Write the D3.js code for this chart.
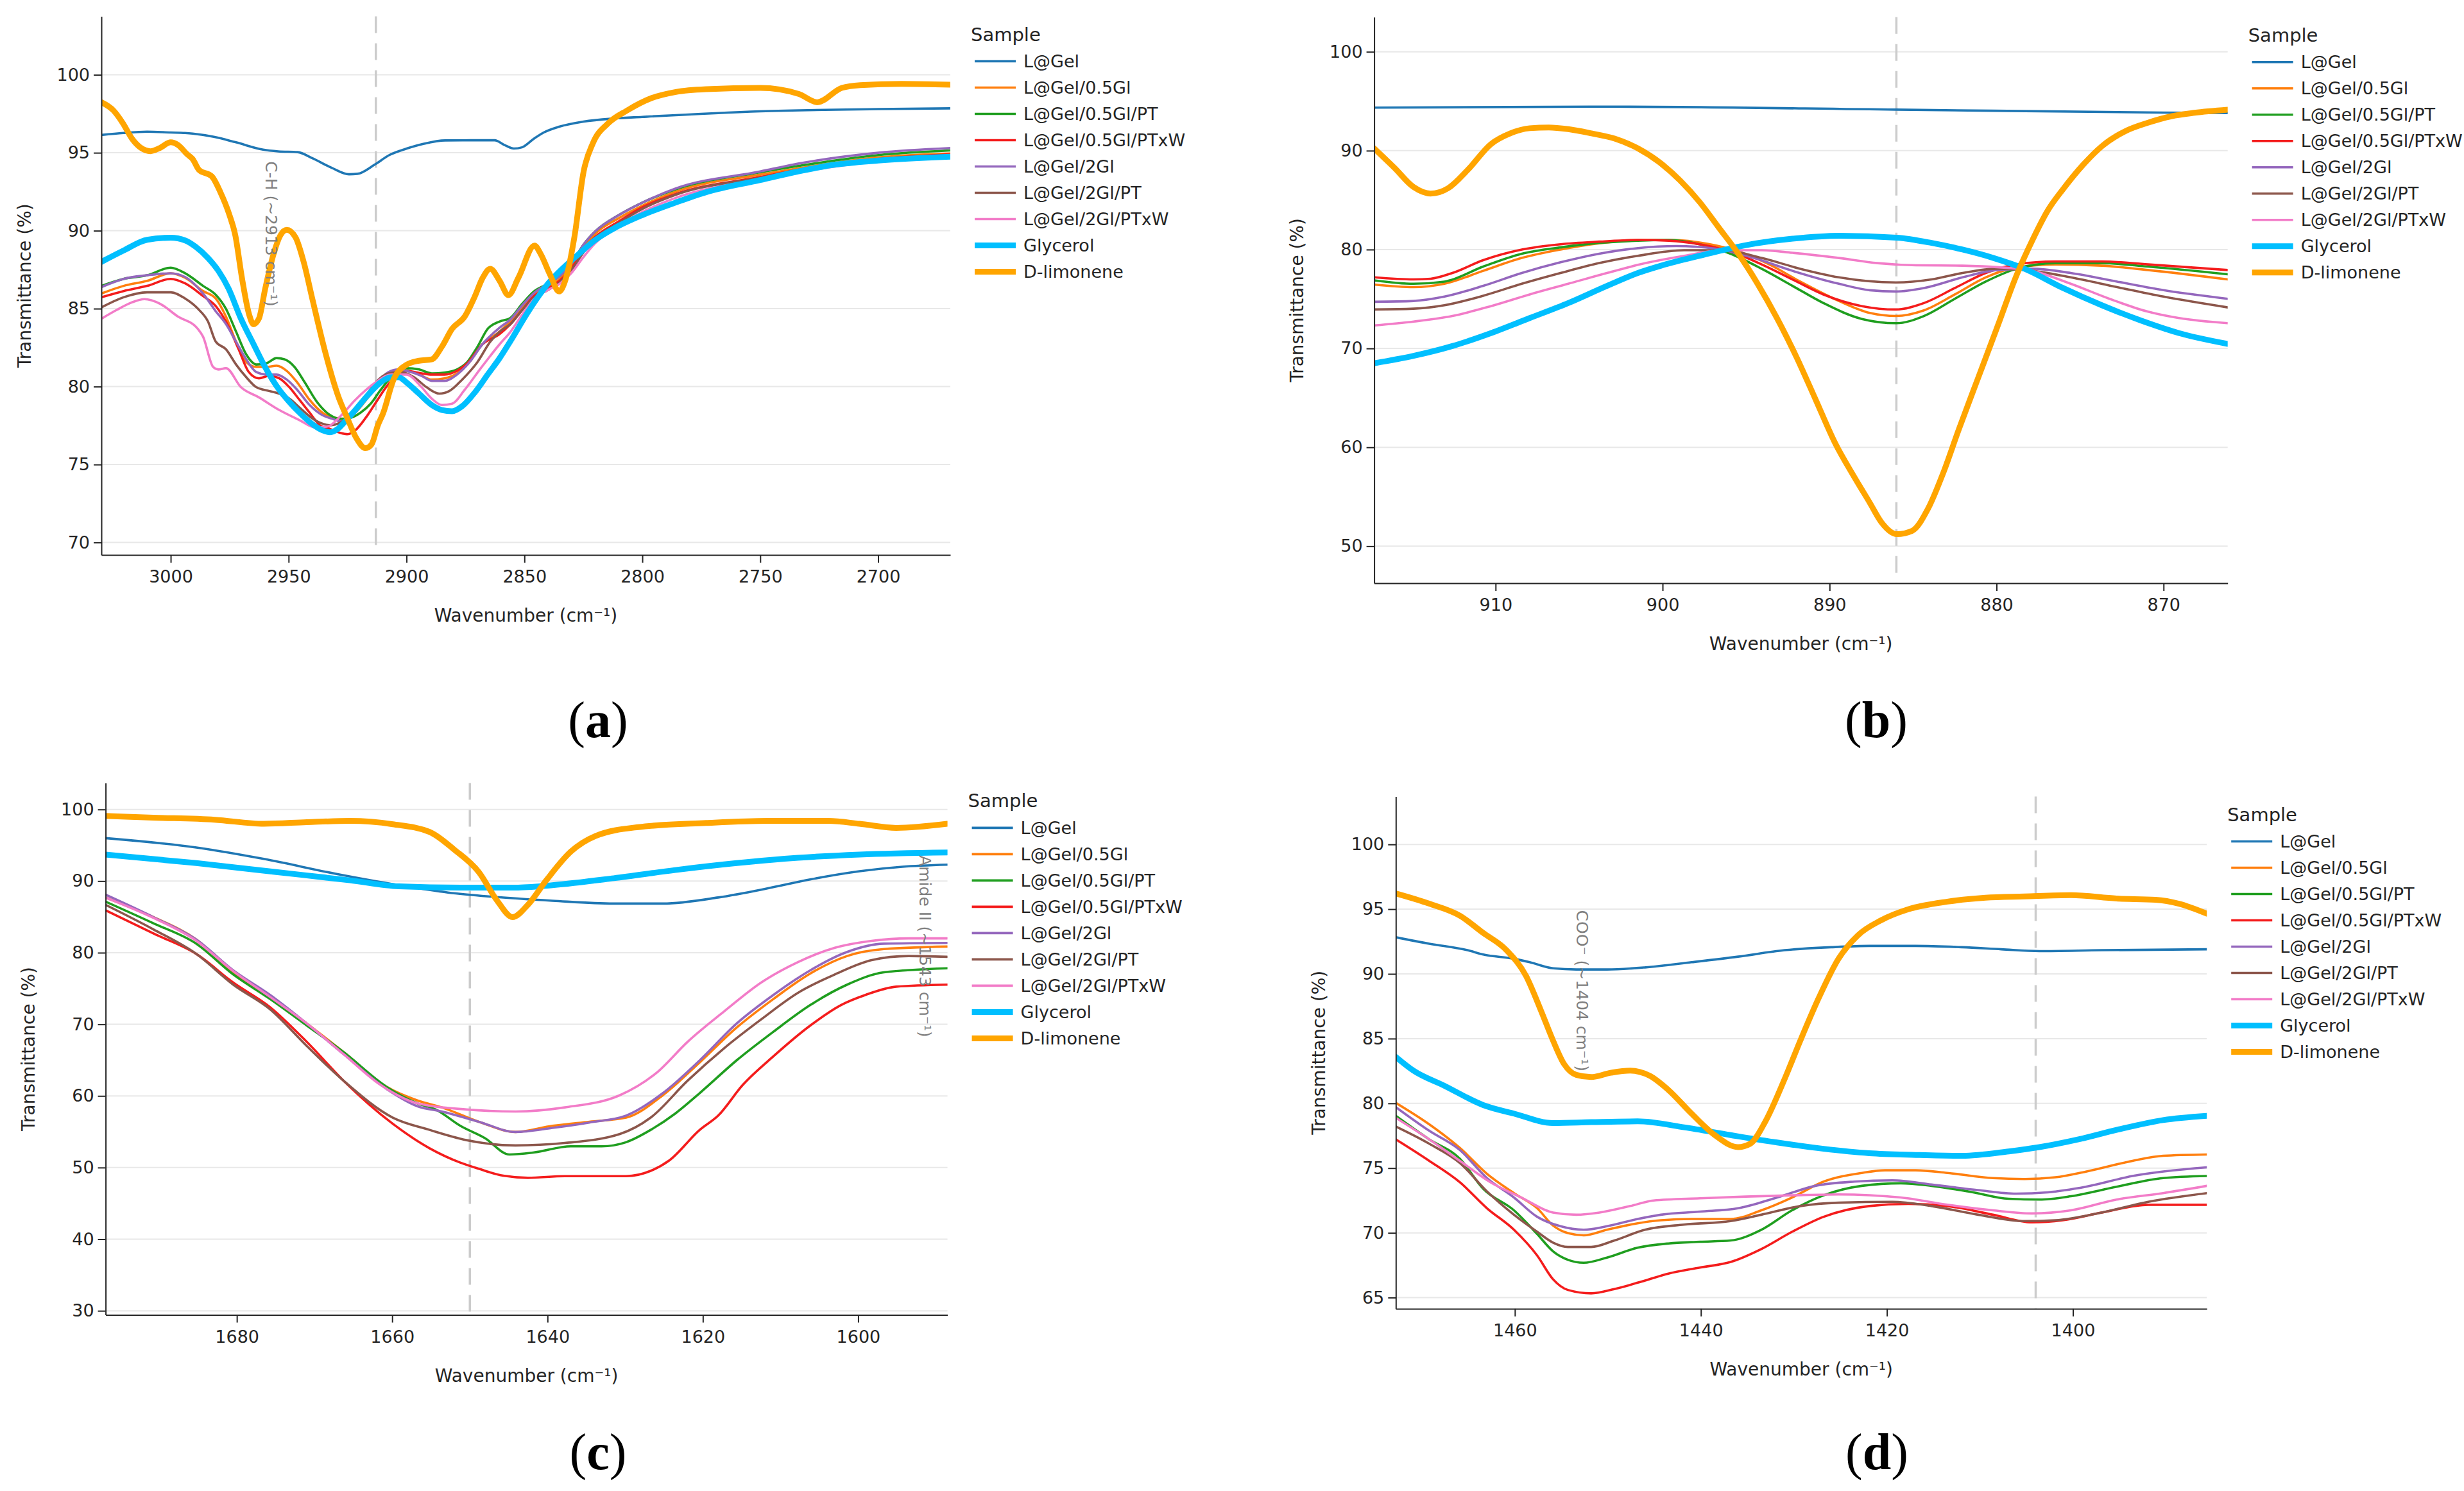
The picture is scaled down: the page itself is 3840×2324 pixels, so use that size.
<!DOCTYPE html>
<html>
<head>
<meta charset="utf-8">
<script src="https://cdn.jsdelivr.net/npm/d3@7"></script>
<style>
  body { margin: 0; background: #fff; }
  svg text { font-family: "DejaVu Sans", Verdana, sans-serif; fill: #242424; }
</style>
</head>
<body>
<svg id="fig" width="3840" height="2324"></svg>
<script>
// ---- series names / colours ----
const sampleNames = ['L@Gel', 'L@Gel/0.5Gl', 'L@Gel/0.5Gl/PT', 'L@Gel/0.5Gl/PTxW', 'L@Gel/2Gl',
  'L@Gel/2Gl/PT', 'L@Gel/2Gl/PTxW', 'Glycerol', 'D-limonene'];
const sampleColors = ['#1f77b4', '#ff7f0e', '#1f9e1f', '#f41c1c', '#9467bd',
  '#8c564b', '#f27cc8', '#00bfff', '#ffa500'];
const sampleWidths = [3.6, 3.6, 3.6, 3.6, 3.6, 3.6, 3.6, 9, 9];

// ---- (a) C-H region : [wavenumber, transmittance] ----
const a_gel = [[3029.4,96.14],[3020,96.27],[3010,96.35],[3000,96.3],[2994,96.27],[2990.7,96.23],[2981.7,96.02],
  [2972.6,95.68],[2960.8,95.2],[2954.4,95.09],[2946.2,95.04],[2939.9,94.65],[2931.7,94.03],[2924.4,93.62],
  [2920.8,93.65],[2913.5,94.24],[2907.2,94.86],[2899.9,95.27],[2892.6,95.58],[2883.6,95.79],[2872.7,95.8],
  [2862.7,95.8],[2858.1,95.47],[2854.5,95.27],[2851,95.35],[2846,95.9],[2841.8,96.3],[2835.3,96.67],
  [2824.9,97.0],[2811.8,97.2],[2800,97.3],[2750,97.66],[2700,97.8],[2669.4,97.85]];
const a_gl05 = [[3029.4,85.97],[3020,86.46],[3010,86.78],[3000,87.27],[2993.9,86.98],[2986.3,86.13],[2980.9,85.65],
  [2976.6,84.5],[2972.3,82.88],[2968,81.58],[2963.7,81.26],[2959.4,81.26],[2955.1,81.34],[2950.8,81.01],
  [2946.4,80.28],[2941.1,79.15],[2935.7,78.33],[2930.3,78.0],[2926,77.93],[2921.7,78.33],[2916.3,79.3],
  [2910.9,80.28],[2905.5,80.93],[2900.1,81.01],[2894.7,80.77],[2889.3,80.45],[2883.9,80.53],[2878.6,80.85],
  [2874.2,81.42],[2867.8,82.72],[2860.5,83.53],[2856,84.2],[2851,85.1],[2846,85.9],[2840,86.4],[2835,86.9],
  [2830,87.7],[2825,88.9],[2820,89.8],[2810,90.8],[2800,91.6],[2786,92.5],[2750,93.6],[2734,94.0],[2700,94.7],
  [2669.4,94.95]];
const a_gl05pt = [[3029.4,86.46],[3020,86.91],[3010,87.14],[3000,87.63],[2993.9,87.27],[2986.3,86.46],[2980.9,85.89],
  [2976.6,85.0],[2972.3,83.53],[2968,82.07],[2963.7,81.42],[2959.4,81.5],[2955.1,81.83],[2951.8,81.75],
  [2947.5,81.26],[2943.2,80.28],[2937.8,78.98],[2932.4,78.17],[2928.1,77.93],[2923.8,78.0],[2919.5,78.33],
  [2915.2,78.9],[2910.9,79.8],[2905.5,80.77],[2900.1,81.18],[2894.7,81.1],[2889.3,80.85],[2883.9,80.9],
  [2878.6,81.1],[2874.2,81.58],[2869.9,82.56],[2865.6,83.7],[2860.5,84.18],[2856,84.4],[2851,85.3],[2846,86.1],
  [2840,86.6],[2835,87.1],[2830,87.9],[2825,89.1],[2820,89.95],[2810,91.0],[2800,91.8],[2786,92.65],
  [2750,93.75],[2734,94.15],[2700,94.85],[2669.4,95.15]];
const a_gl05ptxw = [[3029.4,85.73],[3020,86.13],[3010,86.46],[3000,86.91],[2993.9,86.62],[2986.3,85.81],[2980.9,85.16],
  [2975.5,83.86],[2971.2,82.4],[2966.9,80.93],[2962.6,80.53],[2958.3,80.69],[2954,80.53],[2949.7,79.96],
  [2945.4,79.15],[2941.1,78.33],[2936.7,77.52],[2932.4,77.28],[2928.1,77.03],[2924.9,76.95],[2921.7,77.2],
  [2917.3,78.0],[2913,78.98],[2908.7,79.96],[2904.4,80.69],[2900.1,81.01],[2893.6,80.85],[2889.3,80.77],
  [2883.9,80.77],[2878.6,81.01],[2874.2,81.5],[2867.8,82.72],[2860.5,83.37],[2856,84.0],[2851,84.9],[2846,85.8],
  [2840,86.3],[2835,86.8],[2830,87.6],[2825,88.8],[2820,89.6],[2810,90.6],[2800,91.5],[2786,92.35],
  [2750,93.45],[2734,93.9],[2700,94.6],[2669.4,94.9]];
const a_gl2 = [[3029.4,86.38],[3020,86.91],[3010,87.14],[3000,87.27],[2993.9,87.03],[2986.3,85.97],[2980.9,84.83],
  [2976.6,84.02],[2972.3,82.88],[2968,81.75],[2963.7,80.93],[2959.4,80.77],[2955.1,80.77],[2950.8,80.45],
  [2946.4,79.8],[2941.1,78.82],[2935.7,78.17],[2931.4,77.93],[2928.1,77.77],[2923.8,78.0],[2918.4,78.98],
  [2913,80.12],[2907.7,80.93],[2903.3,81.1],[2900.1,81.01],[2893.6,80.69],[2889.3,80.37],[2883.9,80.37],
  [2878.6,80.77],[2873.2,81.58],[2867.8,82.72],[2860.5,83.78],[2856,84.3],[2851,85.2],[2846,86.0],[2840,86.6],
  [2835,87.1],[2830,87.9],[2825,89.1],[2820,89.95],[2810,91.0],[2800,91.8],[2786,92.7],[2750,93.8],
  [2734,94.3],[2700,95.0],[2669.4,95.3]];
const a_gl2pt = [[3029.4,85.08],[3020,85.73],[3010,86.05],[3000,86.05],[2993.9,85.65],[2988.5,85.0],[2984.2,84.18],
  [2980.9,82.88],[2976.6,82.4],[2972.3,81.42],[2968,80.61],[2963.7,79.96],[2958.3,79.72],[2954,79.55],
  [2949.7,79.23],[2945.4,78.66],[2941.1,78.09],[2936.7,77.68],[2932.4,77.52],[2928.1,77.68],[2923.8,78.17],
  [2918.4,79.15],[2913,80.28],[2907.7,80.85],[2902.3,80.93],[2896.9,80.61],[2891.5,79.96],[2886.1,79.55],
  [2881.8,79.72],[2876.4,80.45],[2869.9,81.58],[2864.5,82.88],[2860.5,83.53],[2856,84.0],[2851,84.9],
  [2846,85.7],[2840,86.2],[2835,86.7],[2830,87.5],[2825,88.6],[2820,89.5],[2810,90.5],[2800,91.4],
  [2786,92.3],[2750,93.4],[2734,93.85],[2700,94.55],[2669.4,94.85]];
const a_gl2ptxw = [[3029.4,84.35],[3023,84.91],[3016.5,85.4],[3011.1,85.61],[3004.6,85.32],[2997.1,84.51],
  [2988.5,83.7],[2986.3,83.21],[2982,81.26],[2979.8,81.1],[2976.6,81.18],[2970.2,79.96],[2962.6,79.31],
  [2954,78.5],[2945.4,77.85],[2938.9,77.39],[2933.5,77.44],[2928.1,78.09],[2921.7,79.15],[2913,80.28],
  [2906.6,80.77],[2900.1,80.77],[2893.6,79.96],[2889.3,79.23],[2885,78.82],[2880.7,78.9],[2875.3,79.8],
  [2868.9,81.1],[2860.5,82.72],[2856,83.5],[2851,84.6],[2846,85.6],[2840,86.2],[2835,86.6],[2830,87.3],
  [2825,88.3],[2820,89.2],[2810,90.3],[2800,91.2],[2786,92.1],[2750,93.3],[2734,93.75],[2700,94.45],
  [2669.4,94.75]];
const a_glycerol = [[3029.4,88.0],[3020,88.73],[3010,89.42],[3000,89.55],[2993.9,89.38],[2989.5,88.98],
  [2984.2,88.25],[2979.8,87.43],[2975.5,86.3],[2970.2,84.35],[2964.8,82.7],[2960,81.26],[2954,79.8],
  [2950,79.07],[2945.4,78.33],[2940,77.6],[2935.7,77.2],[2932.4,77.07],[2929.2,77.28],[2926,77.77],
  [2921.7,78.5],[2916.3,79.47],[2910.9,80.28],[2906.6,80.6],[2903.3,80.6],[2900.1,80.28],[2894.7,79.55],
  [2889.3,78.82],[2885,78.5],[2880.7,78.42],[2876.4,78.74],[2871,79.63],[2865.6,80.77],[2860.5,81.83],
  [2856,82.9],[2848,84.9],[2840,86.6],[2835,87.4],[2827,88.5],[2820,89.4],[2812,90.15],[2800,91.0],
  [2786,91.8],[2773,92.47],[2750,93.25],[2734,93.8],[2720,94.2],[2700,94.5],[2669.4,94.75]];
const a_limonene = [[3029.4,98.24],[3024.2,97.7],[3020.3,96.9],[3016.4,95.9],[3012.5,95.3],[3008.6,95.1],
  [3004.7,95.3],[3000,95.67],[2996.9,95.5],[2993,94.9],[2990.7,94.6],[2988,93.9],[2982.6,93.49],[2978.9,92.46],
  [2975.3,91.1],[2972.6,89.7],[2969.8,86.98],[2966.7,84.6],[2964.9,84.0],[2962.6,84.36],[2959.9,86.3],
  [2956.2,88.6],[2953.5,89.7],[2950.8,90.06],[2947.1,89.58],[2943.5,87.93],[2939.9,85.6],[2934.4,82.17],
  [2929,79.4],[2925.3,78.05],[2921.3,76.7],[2917.4,76.05],[2914.8,76.3],[2912.2,77.5],[2909.9,78.3],
  [2905.5,80.45],[2900,81.4],[2894.7,81.66],[2889.3,81.75],[2885,82.56],[2880.7,83.7],[2875.3,84.5],
  [2871,85.8],[2867.8,86.95],[2864.5,87.56],[2860.5,86.78],[2856.8,85.87],[2852.5,87.0],[2845.7,89.05],
  [2843.1,88.5],[2839.2,87.2],[2835.3,86.1],[2832.7,86.8],[2828.8,89.6],[2824.9,93.8],[2821,95.6],
  [2814.4,96.9],[2806.6,97.7],[2796.2,98.5],[2785.8,98.9],[2772.7,99.08],[2750,99.16],[2733.6,98.77],
  [2725.8,98.24],[2715.4,99.16],[2707.6,99.34],[2690,99.42],[2669.4,99.37]];

// ---- (b) ~886 region ----
const b_gel = [[917.27,94.35],[903,94.45],[886,94.15],[870,93.85],[866.16,93.8]];
const b_gl05 = [[917.27,76.46],[914.91,76.2],[913.06,76.54],[910.74,77.85],[908.43,79.15],[906.11,80.0],
  [903.8,80.63],[901.48,80.97],[899.4,80.97],[897.31,80.58],[895.46,79.8],[893.61,78.5],[891.76,76.76],
  [889.44,74.8],[887.59,73.59],[886.02,73.28],[884.35,73.85],[882.5,75.46],[880.65,77.19],[878.8,78.19],
  [876.48,78.5],[873.7,78.37],[870.93,77.93],[866.16,76.98]];
const b_gl05pt = [[917.27,76.89],[914.91,76.54],[913.06,76.76],[910.74,78.28],[908.43,79.58],[906.11,80.22],
  [903.8,80.67],[901.48,80.89],[899.63,80.97],[897.78,80.54],[895.93,79.58],[894.07,78.06],[892.22,76.33],
  [890.37,74.59],[888.06,72.98],[886.02,72.55],[884.35,73.28],[882.5,75.02],[880.65,76.76],[878.8,78.06],
  [876.48,78.63],[873.7,78.63],[870.93,78.28],[866.16,77.5]];
const b_gl05ptxw = [[917.27,77.19],[914.91,76.98],[913.89,77.05],[912.59,77.63],[910.74,78.93],[908.43,80.0],
  [906.11,80.54],[903.8,80.8],[901.48,80.97],[899.63,80.9],[897.78,80.54],[895.93,79.8],[894.07,78.5],
  [892.22,76.98],[890.37,75.46],[888.06,74.28],[886.02,73.94],[884.35,74.59],[882.5,76.11],[880.65,77.63],
  [878.8,78.5],[876.48,78.8],[873.7,78.8],[870.93,78.5],[866.16,77.93]];
const b_gl2 = [[917.27,74.72],[914.91,74.8],[913.06,75.24],[910.74,76.33],[908.43,77.63],[906.11,78.71],
  [903.8,79.58],[901.48,80.15],[899.17,80.36],[896.85,80.1],[894.54,79.15],[892.22,77.85],[889.44,76.54],
  [887.59,75.89],[886.02,75.76],[884.35,76.11],[882.04,77.19],[879.95,77.93],[877.87,78.06],[875.56,77.63],
  [872.78,76.76],[870,75.89],[866.16,75.02]];
const b_gl2pt = [[917.27,73.94],[914.91,74.02],[913.06,74.37],[910.74,75.33],[908.43,76.54],[906.11,77.63],
  [903.8,78.63],[901.48,79.37],[898.7,79.93],[896.39,79.93],[894.07,79.15],[891.76,78.06],[889.44,77.19],
  [886.02,76.67],[883.89,76.98],[882.04,77.63],[879.95,78.06],[877.87,77.85],[875.56,77.19],[872.78,76.2],
  [870,75.24],[866.16,74.15]];
const b_gl2ptxw = [[917.27,72.33],[914.91,72.72],[912.59,73.28],[910.28,74.28],[907.96,75.46],[905.65,76.54],
  [903.33,77.63],[901.02,78.63],[898.7,79.37],[896.39,79.93],[894.07,79.93],[892.22,79.67],[889.44,79.15],
  [887.13,78.63],[884.81,78.41],[882.04,78.37],[879.72,78.19],[877.87,77.85],[875.56,76.54],[873.24,75.02],
  [870.93,73.72],[869.07,73.07],[866.16,72.55]];
const b_glycerol = [[917.27,68.5],[914.91,69.25],[912.59,70.24],[910.28,71.55],[907.96,73.07],[905.65,74.59],
  [903.33,76.33],[901.48,77.63],[900.09,78.37],[897.78,79.37],[895,80.45],[892.22,81.1],[889.44,81.4],
  [885.97,81.2],[883.89,80.67],[882.04,80.0],[880.19,79.15],[878.33,78.06],[876.02,76.11],[873.7,74.37],
  [871.39,72.85],[869.07,71.55],[866.16,70.46]];
const b_limonene = [[917.27,90.23],[916.06,88.27],[914.91,86.32],[913.89,85.66],[912.82,86.23],[911.67,88.05],
  [910.28,90.66],[909.12,91.75],[907.96,92.27],[906.81,92.35],[905.65,92.18],[904.26,91.75],[902.87,91.22],
  [901.48,90.23],[900.09,88.7],[898.94,86.97],[897.78,84.8],[896.62,82.19],[895.46,79.57],[894.31,76.54],
  [893.15,73.07],[891.99,69.16],[890.83,64.81],[889.68,60.47],[888.52,57.0],[887.59,54.39],[886.9,52.43],
  [885.97,51.22],[885.05,51.56],[884.12,53.74],[883.19,57.43],[882.27,61.77],[881.11,66.99],[879.95,72.2],
  [878.8,77.41],[877.87,80.89],[876.94,83.93],[876.02,86.1],[874.86,88.49],[873.7,90.44],[872.31,91.96],
  [870.93,92.83],[869.54,93.48],[868.15,93.83],[866.16,94.14]];

// ---- (c) amide region ----
const c_gel = [[1696.92,96.0],[1685.22,94.69],[1676.52,93.09],[1667.04,90.97],[1659.13,89.43],[1652.81,88.4],
  [1647.27,87.83],[1639.37,87.26],[1631.46,86.86],[1625.14,86.86],[1618.02,87.71],[1611.7,88.97],
  [1606.17,90.23],[1599.84,91.37],[1594.31,92.0],[1588.54,92.29]];
const c_gl05 = [[1696.92,87.71],[1690.75,84.97],[1685.22,81.83],[1680.47,77.26],[1675.73,73.83],[1670.99,70.11],
  [1666.25,66.11],[1660.71,61.26],[1656.76,59.37],[1653.6,58.4],[1648.85,56.4],[1644.11,54.97],[1639.37,55.83],
  [1634.62,56.4],[1629.88,56.97],[1625.14,60.11],[1620.4,64.69],[1615.65,69.54],[1610.91,73.54],[1606.17,77.09],
  [1601.42,79.54],[1596.68,80.51],[1588.54,80.86]];
const c_gl05pt = [[1696.92,87.14],[1690.75,84.11],[1685.22,81.26],[1680.47,76.97],[1675.73,73.54],[1670.99,69.83],
  [1666.25,66.11],[1660.71,61.26],[1656.76,58.97],[1654.39,58.11],[1651.23,55.83],[1648.06,54.11],[1644.9,51.83],
  [1641.74,52.11],[1637,52.97],[1633.04,52.97],[1629.88,53.54],[1626.72,55.26],[1623.56,57.54],[1620.4,60.4],
  [1615.65,64.97],[1610.91,68.97],[1606.17,72.69],[1601.42,75.54],[1596.68,77.26],[1588.54,77.83]];
const c_gl05ptxw = [[1696.92,85.94],[1690.75,82.69],[1685.22,79.83],[1680.47,75.83],[1675.73,72.4],[1670.99,67.54],
  [1666.25,62.11],[1659.92,56.11],[1655.18,52.69],[1651.23,50.69],[1648.85,49.83],[1645.69,48.86],[1642.53,48.57],
  [1637.79,48.8],[1629.88,48.8],[1626.72,49.54],[1624.35,50.97],[1620.4,55.26],[1618.02,57.26],[1614.86,61.54],
  [1610.91,65.54],[1606.17,69.83],[1602.21,72.69],[1599.05,74.11],[1595.1,75.26],[1588.54,75.54]];
const c_gl2 = [[1696.92,88.11],[1690.75,84.97],[1685.22,81.83],[1680.47,77.54],[1675.73,74.11],[1670.99,70.11],
  [1666.25,65.83],[1660.71,60.97],[1656.76,58.57],[1653.6,57.83],[1648.85,56.4],[1644.11,54.97],[1639.37,55.54],
  [1634.62,56.29],[1629.88,57.26],[1625.14,60.4],[1620.4,64.97],[1615.65,70.11],[1610.91,74.11],[1606.17,77.54],
  [1601.42,80.11],[1596.68,81.26],[1588.54,81.37]];
const c_gl2pt = [[1696.92,86.69],[1690.75,83.26],[1685.22,79.83],[1680.47,75.54],[1675.73,72.11],[1670.99,66.97],
  [1666.25,62.11],[1659.92,56.97],[1655.18,55.26],[1650.43,53.83],[1644.11,53.09],[1637.79,53.43],[1630.67,54.69],
  [1626.72,56.97],[1621.98,62.11],[1617.23,66.69],[1612.49,70.69],[1607.75,74.4],[1603,76.97],[1598.26,78.97],
  [1593.52,79.54],[1588.54,79.43]];
const c_gl2ptxw = [[1696.92,87.71],[1690.75,84.86],[1685.22,81.66],[1680.47,77.43],[1675.73,73.83],[1670.99,70.11],
  [1666.25,65.83],[1661.5,61.54],[1656.76,58.97],[1650.43,58.11],[1644.11,57.83],[1637.79,58.4],[1630.67,60.11],
  [1625.93,63.26],[1621.98,67.54],[1617.23,71.83],[1612.49,75.83],[1607.75,78.69],[1603,80.69],[1598.26,81.66],
  [1593.52,82.0],[1588.54,82.0]];
const c_glycerol = [[1696.92,93.71],[1685.22,92.51],[1674.94,91.26],[1665.45,90.11],[1659.13,89.26],[1651.23,89.09],
  [1644.11,89.09],[1639.37,89.43],[1631.46,90.4],[1623.56,91.54],[1615.65,92.51],[1607.75,93.26],[1599.84,93.71],
  [1588.54,94.0]];
const c_limonene = [[1696.92,99.09],[1690.75,98.86],[1682.85,98.57],[1676.52,98.0],[1670.99,98.23],[1665.45,98.4],
  [1659.92,97.94],[1655.18,96.86],[1652.02,94.4],[1648.85,91.26],[1646.48,87.26],[1644.51,84.97],[1642.53,86.69],
  [1640.16,90.11],[1637,94.11],[1633.83,96.29],[1628.3,97.54],[1619.6,98.11],[1611.7,98.4],[1603.79,98.4],
  [1599.84,98.0],[1595.1,97.43],[1588.54,98.0]];

// ---- (d) COO- region ----
const d_gel = [[1472.8,92.83],[1469.2,92.33],[1465.1,91.83],[1463.4,91.5],[1460.1,91.17],[1458.4,90.9],[1455.9,90.43],
  [1453.4,90.34],[1450.1,90.34],[1446,90.5],[1441,90.9],[1436,91.33],[1431,91.83],[1426,92.06],[1421.9,92.16],
  [1416.9,92.16],[1411.9,92.06],[1407.7,91.9],[1403.6,91.76],[1396.9,91.83],[1385.6,91.9]];
const d_gl05 = [[1472.8,80.04],[1469.2,78.38],[1465.9,76.55],[1463,74.56],[1460.1,73.07],[1457.6,71.9],[1455.9,70.57],
  [1454.3,69.98],[1452.6,69.81],[1450.1,70.24],[1446.8,70.74],[1444.3,70.97],[1441,71.07],[1436.8,71.07],
  [1433.5,71.74],[1430.2,72.73],[1426.8,73.96],[1422.7,74.63],[1420.2,74.83],[1416.9,74.83],[1413.5,74.63],
  [1408.6,74.23],[1405.2,74.16],[1401.9,74.29],[1398.6,74.73],[1393.6,75.56],[1390.3,75.95],[1385.6,76.05]];
const d_gl05pt = [[1472.8,79.04],[1469.2,77.22],[1465.9,75.72],[1463.4,73.4],[1460.1,71.74],[1457.6,69.91],
  [1455.9,68.58],[1454.3,67.92],[1452.6,67.69],[1450.1,68.09],[1446.8,68.85],[1443.5,69.18],[1440.1,69.31],
  [1436.8,69.41],[1433.5,70.24],[1430.2,71.74],[1426.8,72.9],[1422.7,73.63],[1418.5,73.83],[1415.2,73.63],
  [1411,73.17],[1406.9,72.63],[1403.6,72.57],[1400.2,72.83],[1395.3,73.56],[1390.3,74.23],[1385.6,74.39]];
const d_gl05ptxw = [[1472.8,77.22],[1469.2,75.56],[1465.9,73.9],[1463,71.9],[1460.1,70.24],[1457.6,68.25],
  [1455.9,66.42],[1454.3,65.59],[1451.8,65.33],[1449.3,65.66],[1446,66.32],[1443.5,66.85],[1440.1,67.32],
  [1436.8,67.75],[1433.5,68.75],[1430.2,70.08],[1426.8,71.24],[1421.9,72.07],[1417.7,72.24],[1413.5,72.07],
  [1408.6,71.4],[1404.4,70.81],[1401.1,70.97],[1396.9,71.57],[1391.9,72.17],[1385.6,72.17]];
const d_gl2 = [[1472.8,79.71],[1469.2,77.88],[1465.9,76.39],[1463,74.23],[1460.1,72.73],[1457.6,71.24],[1455.1,70.51],
  [1452.6,70.24],[1450.1,70.51],[1446.8,71.07],[1444.3,71.4],[1440.1,71.64],[1436,71.9],[1431.8,72.73],
  [1427.7,73.63],[1423.5,73.96],[1419.4,74.06],[1415.2,73.73],[1410.2,73.3],[1406.1,73.03],[1402.7,73.13],
  [1398.6,73.56],[1393.6,74.39],[1385.6,75.06]];
const d_gl2pt = [[1472.8,78.21],[1469.2,76.88],[1465.9,75.39],[1463,73.2],[1460.1,71.4],[1457.6,70.08],[1455.9,69.25],
  [1454.3,68.91],[1451.8,68.91],[1449.3,69.41],[1446,70.24],[1441.8,70.64],[1436.8,70.91],[1433.5,71.4],
  [1429.3,72.07],[1425.2,72.33],[1419.4,72.4],[1415.2,72.07],[1410.2,71.4],[1405.2,70.91],[1401.9,70.97],
  [1396.9,71.57],[1391.9,72.4],[1385.6,73.07]];
const d_gl2ptxw = [[1472.8,78.88],[1469.2,77.22],[1465.9,75.56],[1462.6,73.9],[1459.3,72.73],[1455.9,71.57],
  [1453.4,71.4],[1450.9,71.57],[1447.6,72.07],[1445.1,72.5],[1440.1,72.67],[1435.2,72.8],[1430.2,72.9],
  [1425.2,72.97],[1418.5,72.73],[1413.5,72.17],[1408.6,71.74],[1404.4,71.5],[1400.2,71.74],[1395.3,72.57],
  [1390.3,73.07],[1385.6,73.63]];
const d_glycerol = [[1472.8,83.59],[1470.9,82.53],[1467.6,81.37],[1463.4,79.87],[1460.1,79.21],[1455.9,78.48],
  [1451.8,78.55],[1446.8,78.61],[1441.8,78.15],[1436.8,77.55],[1431.8,76.98],[1426.8,76.49],[1421.9,76.15],
  [1416.9,76.02],[1411.9,75.95],[1406.9,76.29],[1403.6,76.62],[1399.4,77.22],[1395.3,77.95],[1390.3,78.71],
  [1385.6,79.04]];
const d_limonene = [[1472.8,96.21],[1469.2,95.42],[1465.9,94.49],[1463.4,93.16],[1460.9,91.83],[1458.8,89.84],
  [1457.2,87.18],[1455.9,84.86],[1454.7,83.03],[1453.4,82.2],[1451.8,82.03],[1449.7,82.36],[1447.6,82.53],
  [1445.5,82.13],[1443.5,81.04],[1441,79.21],[1438.5,77.55],[1436,76.62],[1434.7,76.88],[1433.1,78.55],
  [1431,81.87],[1429.3,84.86],[1427.3,88.18],[1425.2,91.17],[1423.1,92.99],[1420.6,94.15],[1417.7,94.99],
  [1413.5,95.58],[1409.4,95.88],[1405.2,95.98],[1400.2,96.08],[1395.3,95.82],[1391.1,95.72],[1388.6,95.42],
  [1385.6,94.65]];

// ---- tick values ----
const a_xTicks = [3000, 2950, 2900, 2850, 2800, 2750, 2700];
const a_yTicks = [70, 75, 80, 85, 90, 95, 100];
const b_xTicks = [910, 900, 890, 880, 870];
const b_yTicks = [50, 60, 70, 80, 90, 100];
const c_xTicks = [1680, 1660, 1640, 1620, 1600];
const c_yTicks = [30, 40, 50, 60, 70, 80, 90, 100];
const d_xTicks = [1460, 1440, 1420, 1400];
const d_yTicks = [65, 70, 75, 80, 85, 90, 95, 100];

// ---- panel layout ----
const panels = [
  {label: 'a', left: 158, right: 1481, top: 25.5, bottom: 865, xDomain: [3029.4, 2669.4], yDomain: [69.2, 103.75],
   xTicks: a_xTicks, yTicks: a_yTicks, vline: 2913, note: 'C-H (~2913 cm⁻¹)', noteAt: [2957.5, 89.8],
   labelAt: [932, 1149],
   series: [a_gel, a_gl05, a_gl05pt, a_gl05ptxw, a_gl2, a_gl2pt, a_gl2ptxw, a_glycerol, a_limonene]},
  {label: 'b', left: 2141.6, right: 3471.7, top: 26.8, bottom: 909, xDomain: [917.27, 866.16], yDomain: [46.26, 103.5],
   xTicks: b_xTicks, yTicks: b_yTicks, vline: 886, note: null,
   labelAt: [2924, 1149],
   series: [b_gel, b_gl05, b_gl05pt, b_gl05ptxw, b_gl2, b_gl2pt, b_gl2ptxw, b_glycerol, b_limonene]},
  {label: 'c', left: 164.6, right: 1476.6, top: 1220.4, bottom: 2049.5, xDomain: [1696.9, 1588.5], yDomain: [29.43, 103.7],
   xTicks: c_xTicks, yTicks: c_yTicks, vline: 1650, note: 'Amide II (~1543 cm⁻¹)', noteAt: [1591.4, 80.9],
   labelAt: [932, 2290],
   series: [c_gel, c_gl05, c_gl05pt, c_gl05ptxw, c_gl2, c_gl2pt, c_gl2ptxw, c_glycerol, c_limonene]},
  {label: 'd', left: 2175.3, right: 3439.2, top: 1241.5, bottom: 2039.9, xDomain: [1472.8, 1385.6], yDomain: [64.14, 103.7],
   xTicks: d_xTicks, yTicks: d_yTicks, vline: 1404, note: 'COO⁻ (~1404 cm⁻¹)', noteAt: [1452.8, 88.7],
   labelAt: [2925, 2290],
   series: [d_gel, d_gl05, d_gl05pt, d_gl05ptxw, d_gl2, d_gl2pt, d_gl2ptxw, d_glycerol, d_limonene]}
];

const svg = d3.select('#fig');
const defs = svg.append('defs');

panels.forEach(drawPanel);

function drawPanel(p, i) {
  const x = d3.scaleLinear().domain(p.xDomain).range([p.left, p.right]);
  const y = d3.scaleLinear().domain(p.yDomain).range([p.bottom, p.top]);
  const g = svg.append('g');

  defs.append('clipPath').attr('id', 'clip' + i)
      .append('rect')
      .attr('x', p.left).attr('y', p.top)
      .attr('width', p.right - p.left).attr('height', p.bottom - p.top);

  // horizontal grid
  g.append('g').selectAll('line')
      .data(p.yTicks)
      .join('line')
      .attr('x1', p.left).attr('x2', p.right)
      .attr('y1', d => y(d)).attr('y2', d => y(d))
      .attr('stroke', '#e8e8e8')
      .attr('stroke-width', 2);

  // dashed marker line
  g.append('line')
      .attr('x1', x(p.vline)).attr('x2', x(p.vline))
      .attr('y1', p.top).attr('y2', p.bottom)
      .attr('stroke', '#cccccc')
      .attr('stroke-width', 3.5)
      .attr('stroke-dasharray', '26,16');

  const line = d3.line()
      .x(d => x(d[0]))
      .y(d => y(d[1]))
      .curve(d3.curveMonotoneX);

  g.append('g')
      .attr('clip-path', 'url(#clip' + i + ')')
      .selectAll('path')
      .data(p.series)
      .join('path')
      .attr('d', line)
      .attr('fill', 'none')
      .attr('stroke', (d, k) => sampleColors[k])
      .attr('stroke-width', (d, k) => sampleWidths[k])
      .attr('stroke-linejoin', 'round')
      .attr('stroke-linecap', 'round');

  if (p.note) {
    g.append('text')
        .attr('transform', 'translate(' + x(p.noteAt[0]) + ',' + y(p.noteAt[1]) + ') rotate(90)')
        .attr('text-anchor', 'middle')
        .attr('dominant-baseline', 'central')
        .attr('font-size', 25)
        .style('fill', '#7f7f7f')
        .text(p.note);
  }

  // axes
  const xAxis = g.append('g')
      .attr('transform', 'translate(0,' + p.bottom + ')')
      .call(d3.axisBottom(x).tickValues(p.xTicks).tickSize(12).tickSizeOuter(0).tickPadding(12)
          .tickFormat(d3.format('d')));
  const yAxis = g.append('g')
      .attr('transform', 'translate(' + p.left + ',0)')
      .call(d3.axisLeft(y).tickValues(p.yTicks).tickSize(12).tickSizeOuter(0).tickPadding(6)
          .tickFormat(d3.format('d')));
  [xAxis, yAxis].forEach(ax => {
    ax.attr('font-family', null).attr('font-size', null);
    ax.select('.domain').attr('stroke', '#242424').attr('stroke-width', 2);
    ax.selectAll('.tick line').attr('stroke', '#242424').attr('stroke-width', 2);
    ax.selectAll('.tick text').attr('font-size', 27).style('fill', '#242424');
  });

  g.append('text')
      .attr('x', (p.left + p.right) / 2)
      .attr('y', p.bottom + 104)
      .attr('text-anchor', 'middle')
      .attr('font-size', 28)
      .text('Wavenumber (cm⁻¹)');

  g.append('text')
      .attr('transform', 'translate(' + (p.left - 120) + ',' + ((p.top + p.bottom) / 2) + ') rotate(-90)')
      .attr('text-anchor', 'middle')
      .attr('dominant-baseline', 'central')
      .attr('font-size', 28)
      .text('Transmittance (%)');

  // legend
  const lg = g.append('g')
      .attr('transform', 'translate(' + (p.right + 32) + ',' + (p.top + 38) + ')');
  lg.append('text')
      .attr('x', 0).attr('y', 0)
      .attr('font-size', 29)
      .text('Sample');
  const item = lg.selectAll('g.item')
      .data(sampleNames)
      .join('g')
      .attr('class', 'item')
      .attr('transform', (d, k) => 'translate(0,' + (32 + k * 41) + ')');
  item.append('line')
      .attr('x1', 6).attr('x2', 70)
      .attr('stroke', (d, k) => sampleColors[k])
      .attr('stroke-width', (d, k) => sampleWidths[k]);
  item.append('text')
      .attr('x', 82)
      .attr('dominant-baseline', 'central')
      .attr('font-size', 27)
      .text(d => d);

  // panel letter
  const lab = svg.append('text')
      .attr('x', p.labelAt[0]).attr('y', p.labelAt[1])
      .attr('text-anchor', 'middle')
      .attr('font-size', 80)
      .style('font-family', '"Liberation Serif", "Times New Roman", serif')
      .style('fill', '#000');
  lab.append('tspan').text('(');
  lab.append('tspan').attr('font-weight', 'bold').text(p.label);
  lab.append('tspan').text(')');
}
</script>
</body>
</html>
